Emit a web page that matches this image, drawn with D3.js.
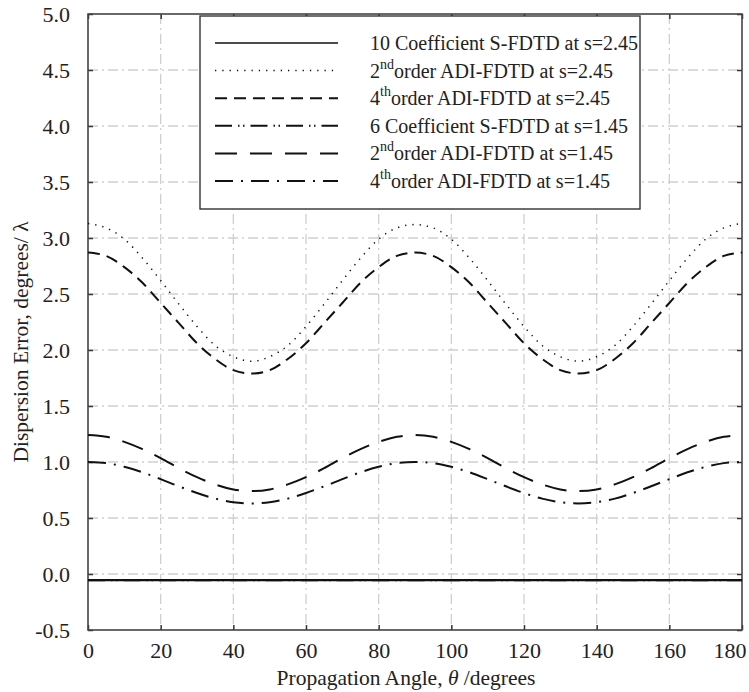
<!DOCTYPE html>
<html>
<head>
<meta charset="utf-8">
<script src="https://cdn.jsdelivr.net/npm/d3@7"></script>
<style>
  body { margin: 0; background: #fff; }
  svg, svg text { font-family: "Liberation Serif", "DejaVu Serif", serif; }
</style>
</head>
<body>
<svg id="chart" width="749" height="692"></svg>
<script>
// propagation angle (degrees)
const angles = [0,5,10,15,20,25,30,35,40,45,50,55,60,65,70,75,80,85,90,
  95,100,105,110,115,120,125,130,135,140,145,150,155,160,165,170,175,180];

// dispersion error, degrees / lambda
const sfdtd10_245 = [-0.055,-0.055,-0.055,-0.055,-0.055,-0.055,-0.055,-0.055,-0.055,-0.055,
  -0.055,-0.055,-0.055,-0.055,-0.055,-0.055,-0.055,-0.055,-0.055,-0.055,-0.055,-0.055,-0.055,
  -0.055,-0.055,-0.055,-0.055,-0.055,-0.055,-0.055,-0.055,-0.055,-0.055,-0.055,-0.055,-0.055,-0.055];
const adi2_245 = [3.13,3.09,2.99,2.82,2.62,2.41,2.21,2.04,1.94,1.90,1.94,2.04,2.21,2.41,2.62,2.82,2.99,3.09,3.12,
  3.09,2.99,2.82,2.62,2.41,2.21,2.04,1.94,1.90,1.94,2.04,2.21,2.41,2.62,2.82,2.99,3.09,3.13];
const adi4_245 = [2.87,2.84,2.74,2.60,2.42,2.24,2.06,1.92,1.82,1.79,1.82,1.92,2.06,2.24,2.42,2.60,2.74,2.84,2.87,
  2.84,2.74,2.60,2.42,2.24,2.06,1.92,1.82,1.79,1.82,1.92,2.06,2.24,2.42,2.60,2.74,2.84,2.87];
const sfdtd6_145 = [-0.055,-0.055,-0.055,-0.055,-0.055,-0.055,-0.055,-0.055,-0.055,-0.055,
  -0.055,-0.055,-0.055,-0.055,-0.055,-0.055,-0.055,-0.055,-0.055,-0.055,-0.055,-0.055,-0.055,
  -0.055,-0.055,-0.055,-0.055,-0.055,-0.055,-0.055,-0.055,-0.055,-0.055,-0.055,-0.055,-0.055,-0.055];
const adi2_145 = [1.24,1.225,1.18,1.115,1.035,0.945,0.865,0.80,0.755,0.74,0.755,0.80,0.865,0.945,1.035,1.115,1.18,1.225,1.24,
  1.225,1.18,1.115,1.035,0.945,0.865,0.80,0.755,0.74,0.755,0.80,0.865,0.945,1.035,1.115,1.18,1.225,1.24];
const adi4_145 = [1.00,0.99,0.957,0.908,0.847,0.783,0.723,0.673,0.641,0.63,0.641,0.673,0.723,0.783,0.847,0.908,0.957,0.99,1.00,
  0.99,0.957,0.908,0.847,0.783,0.723,0.673,0.641,0.63,0.641,0.673,0.723,0.783,0.847,0.908,0.957,0.99,1.00];

const xTicks = [0,20,40,60,80,100,120,140,160,180];
const yTicks = [-0.5,0,0.5,1,1.5,2,2.5,3,3.5,4,4.5,5];

// legend: [number, superscript, rest]
const series = [
  { values: sfdtd10_245, label: ["10 Coefficient S-FDTD at s=2.45", "", ""], dash: null, width: 2.4 },
  { values: adi2_245, label: ["2", "nd", "order ADI-FDTD at s=2.45"], dash: "1.3,6", width: 1.5 },
  { values: adi4_245, label: ["4", "th", "order ADI-FDTD at s=2.45"], dash: "12,7", width: 2 },
  { values: sfdtd6_145, label: ["6 Coefficient S-FDTD at s=1.45", "", ""], dash: "17,6,1.5,3.5,1.5,6", width: 2 },
  { values: adi2_145, label: ["2", "nd", "order ADI-FDTD at s=1.45"], dash: "22,13", width: 2 },
  { values: adi4_145, label: ["4", "th", "order ADI-FDTD at s=1.45"], dash: "18,8,2,8", width: 2 }
];

const serif = "Liberation Serif, DejaVu Serif, serif";
const svg = d3.select("#chart");
const M = { top: 14, right: 7, bottom: 62, left: 88 };
const W = 749, H = 692;
const innerW = W - M.left - M.right, innerH = H - M.top - M.bottom;
const g = svg.append("g").attr("transform", `translate(${M.left},${M.top})`);

const x = d3.scaleLinear().domain([0, 180]).range([0, innerW]);
const y = d3.scaleLinear().domain([-0.5, 5]).range([innerH, 0]);

// grid (dash-dot, light gray)
const gridDash = "10,4,2,4";
g.append("g").selectAll("line").data(xTicks.slice(1, -1)).join("line")
  .attr("x1", d => x(d)).attr("x2", d => x(d)).attr("y1", 0).attr("y2", innerH)
  .attr("stroke", "#cfcfcf").attr("stroke-width", 1.3).attr("stroke-dasharray", gridDash);
g.append("g").selectAll("line").data(yTicks.slice(1, -1)).join("line")
  .attr("x1", 0).attr("x2", innerW).attr("y1", d => y(d)).attr("y2", d => y(d))
  .attr("stroke", "#cfcfcf").attr("stroke-width", 1.3).attr("stroke-dasharray", gridDash);

// axes with inward ticks
const fmt = d => d3.format(".1f")(d).replace("−", "-");
const axisStyle = sel => {
  sel.attr("font-family", serif).attr("font-size", 22);
  sel.select(".domain").remove();
  sel.selectAll(".tick line").attr("stroke", "#333").attr("stroke-width", 1.5);
  sel.selectAll(".tick text").attr("fill", "#222");
};
const xAxis = g.append("g").attr("transform", `translate(0,${innerH})`)
  .call(d3.axisBottom(x).tickValues(xTicks).tickSize(-5).tickPadding(12).tickFormat(d3.format("d")))
  .call(axisStyle);
// last label sits left of its tick, as in the original
xAxis.selectAll(".tick text").filter(d => d === 180).attr("text-anchor", "end").attr("dx", 4);
g.append("g")
  .call(d3.axisLeft(y).tickValues(yTicks).tickSize(-5).tickPadding(18).tickFormat(fmt))
  .call(axisStyle);
g.append("g")
  .call(d3.axisTop(x).tickValues(xTicks).tickSize(-5).tickFormat(""))
  .call(axisStyle);
g.append("g").attr("transform", `translate(${innerW},0)`)
  .call(d3.axisRight(y).tickValues(yTicks).tickSize(-5).tickFormat(""))
  .call(axisStyle);

// frame
g.append("rect").attr("width", innerW).attr("height", innerH)
  .attr("fill", "none").attr("stroke", "#444").attr("stroke-width", 1.6);

// curves
const line = d3.line().x((d, i) => x(angles[i])).y(d => y(d)).curve(d3.curveMonotoneX);
series.forEach(s => {
  g.append("path").datum(s.values)
    .attr("fill", "none").attr("stroke", "#111").attr("stroke-width", s.width)
    .attr("stroke-dasharray", s.dash)
    .attr("d", line);
});

// legend
const lg = svg.append("g").attr("font-family", serif);
lg.append("rect").attr("x", 200).attr("y", 16).attr("width", 440).attr("height", 193)
  .attr("fill", "#fff").attr("stroke", "#333").attr("stroke-width", 1.4);
series.forEach((s, i) => {
  const cy = 43 + i * 27.6;
  lg.append("line").attr("x1", 215).attr("x2", 338).attr("y1", cy).attr("y2", cy)
    .attr("stroke", "#111").attr("stroke-width", s.width === 2.4 ? 1.6 : s.width)
    .attr("stroke-dasharray", s.dash);
  const t = lg.append("text").attr("x", 370).attr("y", cy + 7)
    .attr("fill", "#222").attr("font-size", 20);
  t.append("tspan").text(s.label[0]);
  if (s.label[1]) {
    t.append("tspan").attr("dy", -9).attr("font-size", 14).text(s.label[1]);
    t.append("tspan").attr("dy", 9).text(s.label[2]);
  }
});

// axis titles
svg.append("text").attr("x", 406).attr("y", 685)
  .attr("text-anchor", "middle").attr("fill", "#222").attr("font-family", serif).attr("font-size", 21.5)
  .html('Propagation Angle, <tspan font-style="italic">θ</tspan> /degrees');
svg.append("text")
  .attr("transform", "translate(28,342) rotate(-90)")
  .attr("text-anchor", "middle").attr("fill", "#222").attr("font-family", serif).attr("font-size", 21.5)
  .text("Dispersion Error, degrees/ λ");
</script>
</body>
</html>
